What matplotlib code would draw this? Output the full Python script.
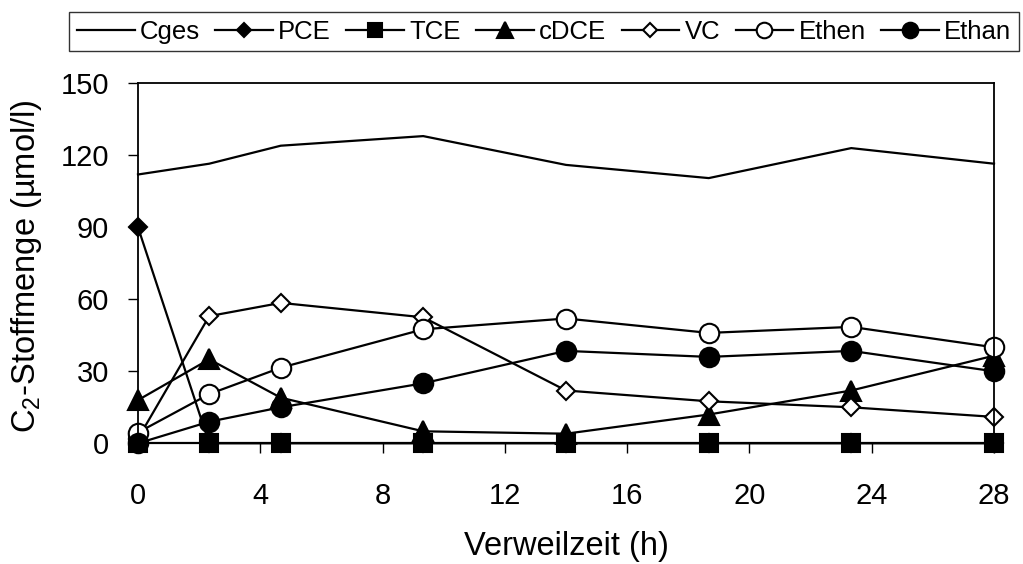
import matplotlib
matplotlib.use("Agg")
import matplotlib.pyplot as plt

plt.rcParams['font.family'] = ['Liberation Sans', 'DejaVu Sans']
plt.rcParams['mathtext.fontset'] = 'custom'
plt.rcParams['mathtext.rm'] = 'Liberation Sans'
plt.rcParams['mathtext.it'] = 'Liberation Sans:italic'

# Data
time_h = [0, 2.33, 4.67, 9.33, 14, 18.67, 23.33, 28]
cges = [112, 116.5, 124, 128, 116, 110.5, 123, 116.5]
pce = [90, 0, 0, 0, 0, 0, 0, 0]
tce = [0, 0, 0, 0, 0, 0, 0, 0]
cdce = [18, 35, 19, 5, 4, 12, 22, 36.5]
vc = [2, 53, 58.5, 52.5, 22, 17.5, 15, 11]
ethen = [4.5, 20.5, 31.5, 47.5, 52, 46, 48.5, 40]
ethan = [0, 9, 15, 25, 38.5, 36, 38.5, 30]
x_ticks = [0, 4, 8, 12, 16, 20, 24, 28]
y_ticks = [0, 30, 60, 90, 120, 150]

W, H = 1023, 564
fig = plt.figure(figsize=(W / 100, H / 100), dpi=100)
left, right, top, bottom = 138, 994, 83.3, 443.3
ax = fig.add_axes([left / W, 1 - bottom / H, (right - left) / W, (bottom - top) / H])

lw = 1.6
mew = 1.5
common = dict(color='black', linewidth=lw, markeredgecolor='black',
              markeredgewidth=mew, clip_on=False)
ax.plot(time_h, cges, label='Cges', **common)
ax.plot(time_h, pce, marker='D', markersize=9, markerfacecolor='black', label='PCE', **common)
ax.plot(time_h, tce, marker='s', markersize=13, markerfacecolor='black', label='TCE', **common)
ax.plot(time_h, cdce, marker='^', markersize=14, markerfacecolor='black', label='cDCE', **common)
ax.plot(time_h, vc, marker='D', markersize=9.5, markerfacecolor='white', label='VC', **common)
ax.plot(time_h, ethen, marker='o', markersize=14, markerfacecolor='white', label='Ethen', **common)
ax.plot(time_h, ethan, marker='o', markersize=14, markerfacecolor='black', label='Ethan', **common)

ax.set_xlim(0, 28)
ax.set_ylim(0, 150)
ax.set_xticks(x_ticks)
ax.set_yticks(y_ticks)
ax.tick_params(axis='both', direction='out', length=7, width=1, colors='black', labelsize=21)
ax.tick_params(axis='x', pad=21)
ax.tick_params(axis='y', pad=14)
for s in ax.spines.values():
    s.set_linewidth(1.3)
    s.set_color('black')

ax.set_xlabel('Verweilzeit (h)', fontsize=23.5)
ax.xaxis.set_label_coords(0.5, (bottom - 546) / (bottom - top))
ax.xaxis.label.set_verticalalignment('center')
ax.set_ylabel(r'C$_\mathregular{2}$-Stoffmenge (µmol/l)', fontsize=23.5)
ax.yaxis.set_label_coords((27 - left) / (right - left), (bottom - 266) / (bottom - top))
ax.yaxis.label.set_verticalalignment('center')

leg = fig.legend(loc='upper left', bbox_to_anchor=(69 / W, 1 - 12 / H), ncol=7,
                 fontsize=18.5, handlelength=2.25, handletextpad=0.2, columnspacing=0.6,
                 borderpad=0.3, borderaxespad=0, fancybox=False, frameon=True,
                 markerscale=0.8)
leg.get_frame().set_edgecolor('black')
leg.get_frame().set_linewidth(1.0)

fig.savefig('out.png', dpi=100)
